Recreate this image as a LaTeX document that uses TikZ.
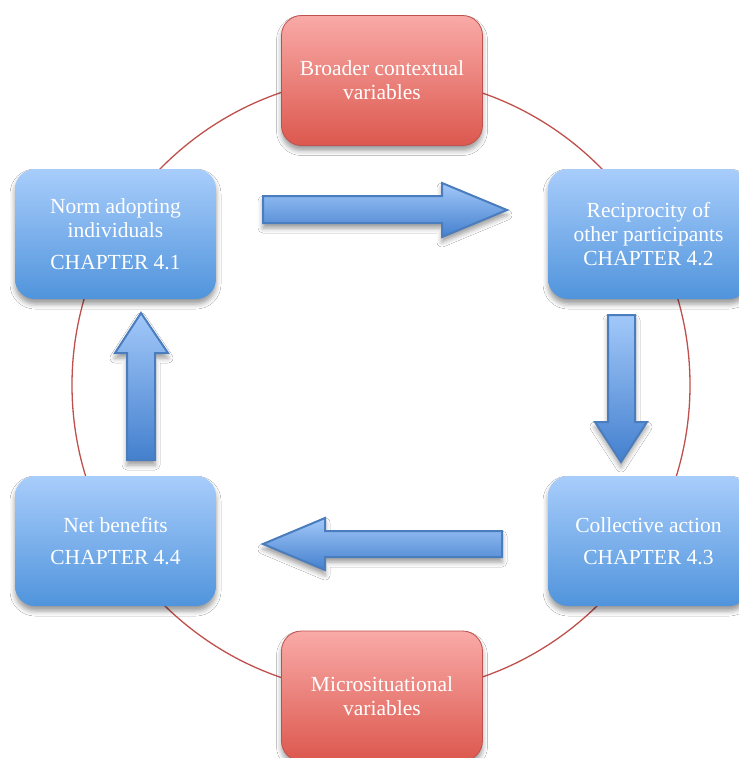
\documentclass[tikz,border=0pt]{standalone}
\usepackage{fontspec}
\setmainfont{Liberation Serif}
\usetikzlibrary{shadows.blur}

\definecolor{ringred}{RGB}{192,80,77}
\definecolor{boxbluetop}{RGB}{168,205,251}
\definecolor{boxbluebot}{RGB}{80,148,220}
\definecolor{boxredtop}{RGB}{249,170,167}
\definecolor{boxredbot}{RGB}{220,88,78}
\definecolor{arrowtop}{RGB}{162,200,249}
\definecolor{arrowbot}{RGB}{68,128,206}
\definecolor{arrowedge}{RGB}{74,125,190}

\begin{document}
\begin{tikzpicture}[x=1pt,y=-1pt,
  softshadow/.style={blur shadow={shadow xshift=0pt, shadow yshift=-5pt,
      shadow blur radius=5pt, shadow opacity=40}},
  box/.style={rounded corners=20pt, minimum width=201pt, minimum height=130pt,
      inner sep=0pt, align=center, text=white,
      font=\fontsize{21.5}{24}\selectfont, softshadow},
  bluebox/.style={box, top color=boxbluetop, bottom color=boxbluebot},
  redbox/.style={box, top color=boxredtop, bottom color=boxredbot,
      draw=ringred, line width=0.8pt},
  blockarrow/.style={top color=arrowtop, bottom color=arrowbot,
      draw=arrowedge, line width=2pt, line join=miter, softshadow}]

  \clip (0,0) rectangle (739,758);
  \fill[white] (0,0) rectangle (739,758);

  % the ring linking all six boxes
  \draw[ringred, line width=1.3pt] (381,385) circle[radius=309];

  % context boxes on the ring
  \node[redbox] (broad) at (382,80.5) {Broader contextual\\variables};
  \node[redbox] (micro) at (382,696) {Microsituational\\variables};

  % the four stages of the cycle
  \node[bluebox] (norm)  at (115.5,234) {Norm adopting\\individuals\\[8pt]CHAPTER 4.1};
  \node[bluebox] (recip) at (648.5,234) {Reciprocity of\\other participants\\CHAPTER 4.2};
  \node[bluebox] (coll)  at (648.5,541) {Collective action\\[8pt]CHAPTER 4.3};
  \node[bluebox] (net)   at (115.5,541) {Net benefits\\[8pt]CHAPTER 4.4};

  % block arrows between the stages
  \path[blockarrow] (263,196) -- (442,196) -- (442,183) -- (507,210)
        -- (442,237) -- (442,223) -- (263,223) -- cycle;
  \path[blockarrow] (608,315) -- (635,315) -- (635,422) -- (647,422)
        -- (621,462) -- (595,422) -- (608,422) -- cycle;
  \path[blockarrow] (502,531) -- (325,531) -- (325,518) -- (263,544)
        -- (325,570) -- (325,557) -- (502,557) -- cycle;
  \path[blockarrow] (127,460) -- (127,353) -- (115,353) -- (141,313)
        -- (168,353) -- (155,353) -- (155,460) -- cycle;
\end{tikzpicture}
\end{document}
